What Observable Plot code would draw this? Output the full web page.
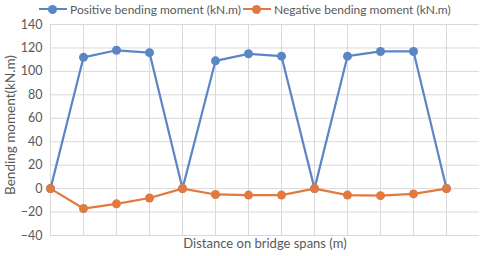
<!DOCTYPE html>
<html>
<head>
<meta charset="utf-8">
<script src="https://cdn.jsdelivr.net/npm/d3@7"></script>
<script src="https://cdn.jsdelivr.net/npm/@observablehq/plot@0.6"></script>
<style>
  html, body { margin: 0; padding: 0; background: #fff; }
  #wrap { position: relative; width: 480px; height: 256px; font-family: Lato, sans-serif; color: #595959; }
  #legend { position: absolute; top: 0; left: 0; width: 480px; height: 20px; font-size: 12px; }
  .item { position: absolute; top: 1px; display: flex; align-items: center; white-space: nowrap; }
  .sw { position: relative; width: 28px; height: 16px; margin-right: 3px; }
  .sw .ln { position: absolute; left: 0; right: 0; top: 7px; height: 2px; }
  .sw .dot { position: absolute; left: 9px; top: 3.5px; width: 9px; height: 9px; border-radius: 50%; }
</style>
</head>
<body>
<div id="wrap">
  <div id="legend"></div>
  <div id="chart"></div>
</div>
<script>
const positions = [0,1,2,3,4,5,6,7,8,9,10,11,12];
const positiveMoment = [0,112,118,116,0,109,115,113,0,113,117,117,0];
const negativeMoment = [0,-17,-13,-8,0,-5,-5.5,-5.5,0,-5.5,-6,-4.5,0];
const seriesNames = ["Positive bending moment (kN.m)", "Negative bending moment (kN.m)"];
const seriesColors = ["#5b86c5", "#e2793f"];
const yTicks = [-40,-20,0,20,40,60,80,100,120,140];

const rows = [];
positions.forEach((p, i) => {
  rows.push({x: p, y: positiveMoment[i], s: seriesNames[0]});
});
positions.forEach((p, i) => {
  rows.push({x: p, y: negativeMoment[i], s: seriesNames[1]});
});

const chart = Plot.plot({
  width: 480,
  height: 256,
  marginTop: 24,
  marginBottom: 21,
  marginLeft: 50,
  marginRight: 1,
  style: {fontFamily: "Lato, sans-serif", fontSize: "12px", color: "#595959", background: "#fff"},
  x: {domain: [0, 13], ticks: positions, tickFormat: () => "", tickSize: 0, label: null},
  y: {domain: [-40, 140], ticks: yTicks, tickSize: 0, tickPadding: 8, label: null},
  color: {domain: seriesNames, range: seriesColors},
  marks: [
    Plot.gridY(yTicks, {stroke: "#d9d9d9", strokeOpacity: 1, strokeWidth: 1}),
    Plot.gridX(positions, {stroke: "#d9d9d9", strokeOpacity: 1, strokeWidth: 1}),
    Plot.axisY({ticks: yTicks, tickSize: 0, tickPadding: 8, fill: "#595959", fontSize: 12.5, label: null}),
    Plot.line(rows, {x: "x", y: "y", z: "s", stroke: "s", strokeWidth: 2.2}),
    Plot.dot(rows, {x: "x", y: "y", fill: "s", r: 4.5}),
    Plot.text(["Distance on bridge spans (m)"], {frameAnchor: "bottom", dy: 12, fill: "#595959", fontSize: 13}),
    Plot.text(["Bending moment(kN.m)"], {frameAnchor: "left", textAnchor: "middle", dx: -40, dy: -5, rotate: -90, fill: "#595959", fontSize: 13.5})
  ]
});
document.getElementById("chart").appendChild(chart);

const legend = document.getElementById("legend");
const lefts = [39, 243];
seriesNames.forEach((name, i) => {
  const it = document.createElement("div");
  it.className = "item";
  it.style.left = lefts[i] + "px";
  it.innerHTML = `<div class="sw"><div class="ln" style="background:${seriesColors[i]}"></div><div class="dot" style="background:${seriesColors[i]}"></div></div><span>${name}</span>`;
  legend.appendChild(it);
});
</script>
</body>
</html>
